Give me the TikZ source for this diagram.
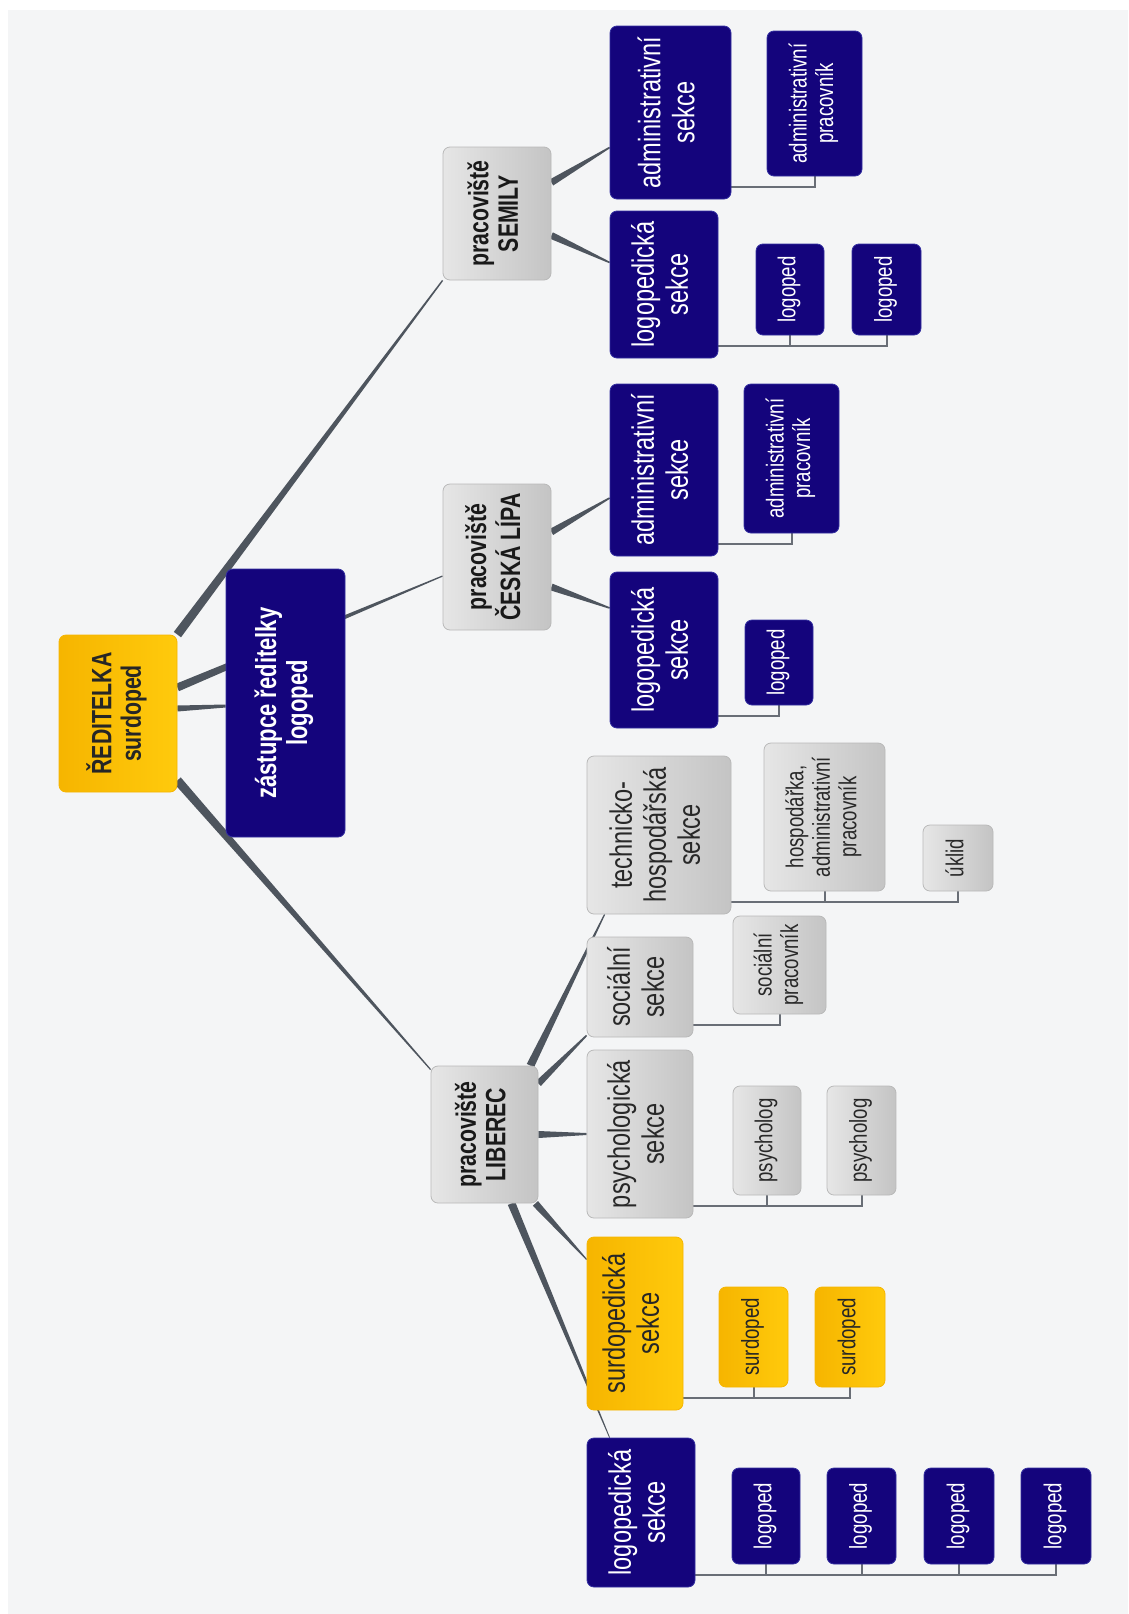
\documentclass[tikz,border=0pt]{standalone}
\usepackage{fontspec}
\setmainfont{Liberation Sans}[FakeStretch=0.76]
\usepackage{graphicx}
\usetikzlibrary{calc}

\definecolor{navy}{RGB}{20,4,124}
\definecolor{navyedge}{RGB}{52,48,160}
\definecolor{goldL}{RGB}{246,181,0}
\definecolor{goldR}{RGB}{255,202,12}
\definecolor{greyL}{RGB}{230,230,230}
\definecolor{greyR}{RGB}{196,196,196}
\definecolor{greyedge}{RGB}{185,185,185}
\definecolor{paper}{RGB}{244,245,246}
\definecolor{wirecol}{RGB}{78,85,94}
\definecolor{inkgrey}{RGB}{40,40,40}

\pgfdeclarelayer{bg}
\pgfsetlayers{bg,main}

\newcommand\vt[1]{\rotatebox{90}{\begin{tabular}{@{}c@{}}#1\end{tabular}}}
\newcommand\taper[4]{%
  \fill[wire] let \p1=(#1), \p2=(#2), \n1={atan2(\y2-\y1,\x2-\x1)+90} in
    ($(\p1)+(\n1:#3pt)$) -- ($(\p2)+(\n1:#4pt)$) -- ($(\p2)+(\n1+180:#4pt)$) -- ($(\p1)+(\n1+180:#3pt)$) -- cycle;}
\newcommand\kids[2]{\foreach \c in {#2} \draw[link] ($(#1.south east)+(0,-12)$) -| (\c.south);}

\tikzset{
  orgbox/.style={rounded corners=7pt, inner sep=0pt, line width=0.8pt},
  navybox/.style={orgbox, fill=navy, draw=navyedge, text=white},
  greybox/.style={orgbox, left color=greyL, right color=greyR, draw=greyedge, text=inkgrey},
  goldbox/.style={orgbox, left color=goldL, right color=goldR, draw=goldL, text=black!85},
  head/.style={font=\fontsize{28}{29.5}\selectfont\bfseries},
  sect/.style={font=\fontsize{31}{34}\selectfont},
  leaf/.style={font=\fontsize{24.5}{26.5}\selectfont},
  sz/.style 2 args={minimum width=#1pt, minimum height=#2pt},
  wire/.style={fill=wirecol},
  link/.style={draw=wirecol!85, line width=2pt}
}

\begin{document}
\begin{tikzpicture}[x=1pt, y=-1pt]
\useasboundingbox (0,0) rectangle (1128,1614);

\node[goldbox, head, sz={118}{157}] (red) at (118,713.5) {\vt{ŘEDITELKA\\surdoped}};
\node[navybox, head, font=\fontsize{29}{31}\selectfont\bfseries, sz={119}{268}] (zast) at (285.5,703) {\vt{zástupce ředitelky\\logoped}};
\node[greybox, head, text=black!90, sz={108}{133}] (semily) at (497,213.5) {\vt{pracoviště\\SEMILY}};
\node[greybox, head, text=black!90, sz={108}{146}] (lipa) at (497,557) {\vt{pracoviště\\ČESKÁ LÍPA}};
\node[greybox, head, text=black!90, sz={107}{137}] (liberec) at (484.5,1134.5) {\vt{pracoviště\\LIBEREC}};

\node[navybox, sect, sz={121}{173}] (sAdm) at (670.5,112.5) {\vt{administrativní\\sekce}};
\node[navybox, leaf, sz={95}{145}] (sAdmP) at (814.5,103.5) {\vt{administrativní\\pracovník}};
\node[navybox, sect, sz={108}{147}] (sLog) at (664,284.5) {\vt{logopedická\\sekce}};
\node[navybox, leaf, sz={68}{91}] (sLog1) at (790,289.5) {\vt{logoped}};
\node[navybox, leaf, sz={69}{91}] (sLog2) at (886.5,289.5) {\vt{logoped}};

\node[navybox, sect, sz={108}{172}] (lAdm) at (664,470) {\vt{administrativní\\sekce}};
\node[navybox, leaf, sz={95}{149}] (lAdmP) at (791.5,458.5) {\vt{administrativní\\pracovník}};
\node[navybox, sect, sz={108}{156}] (lLog) at (664,650) {\vt{logopedická\\sekce}};
\node[navybox, leaf, sz={68}{85}] (lLog1) at (779,662.5) {\vt{logoped}};

\node[greybox, sect, sz={144}{158}] (tech) at (659,835) {\vt{technicko-\\hospodářská\\sekce}};
\node[greybox, leaf, sz={121}{148}] (hosp) at (824.5,817) {\vt{hospodářka,\\administrativní\\pracovník}};
\node[greybox, leaf, sz={70}{66}] (uklid) at (958,858) {\vt{úklid}};
\node[greybox, sect, sz={106}{100}] (soc) at (640,987) {\vt{sociální\\sekce}};
\node[greybox, leaf, sz={93}{98}] (socP) at (779.5,965) {\vt{sociální\\pracovník}};
\node[greybox, sect, sz={106}{168}] (psy) at (640,1134) {\vt{psychologická\\sekce}};
\node[greybox, leaf, sz={68}{109}] (psy1) at (767,1140.5) {\vt{psycholog}};
\node[greybox, leaf, sz={69}{109}] (psy2) at (861.5,1140.5) {\vt{psycholog}};
\node[goldbox, sect, sz={96}{173}] (surdo) at (635,1323.5) {\vt{surdopedická\\sekce}};
\node[goldbox, leaf, sz={69}{100}] (sur1) at (753.5,1337) {\vt{surdoped}};
\node[goldbox, leaf, sz={70}{100}] (sur2) at (850,1337) {\vt{surdoped}};
\node[navybox, sect, sz={108}{149}] (llog) at (641,1512.5) {\vt{logopedická\\sekce}};
\node[navybox, leaf, sz={68}{96}] (ll1) at (766,1516) {\vt{logoped}};
\node[navybox, leaf, sz={69}{96}] (ll2) at (861.5,1516) {\vt{logoped}};
\node[navybox, leaf, sz={70}{96}] (ll3) at (959,1516) {\vt{logoped}};
\node[navybox, leaf, sz={70}{96}] (ll4) at (1056,1516) {\vt{logoped}};

\begin{pgfonlayer}{bg}
\fill[white] (0,0) rectangle (1128,1614);
\fill[paper] (8,10) rectangle (1128,1614);
\taper{red.north east}{semily.south west}{4.5}{0.7}
\taper{$(red.east)+(0,-26)$}{$(lipa.west)+(0,19)$}{4}{0.6}
\taper{$(red.east)+(0,-5)$}{$(zast.west)+(0,3)$}{3}{1.5}
\taper{$(red.south east)+(0,-12)$}{$(liberec.north west)+(0,4)$}{4.5}{0.6}
\taper{$(semily.east)+(0,-31)$}{$(sAdm.west)+(0,35)$}{3.5}{0.8}
\taper{$(semily.east)+(0,22)$}{$(sLog.west)+(0,-22)$}{3.5}{0.8}
\taper{$(lipa.east)+(0,-25)$}{$(lAdm.west)+(0,28)$}{3.5}{0.8}
\taper{$(lipa.east)+(0,30)$}{$(lLog.west)+(0,-42)$}{3.5}{0.8}
\taper{$(liberec.north east)+(-8,0)$}{$(tech.south west)+(18,0)$}{4}{0.6}
\taper{$(liberec.east)+(0,-51)$}{$(soc.south west)+(0,-2)$}{3.5}{0.8}
\taper{liberec.east}{psy.west}{3.5}{1}
\taper{$(liberec.south east)+(-3,0)$}{$(surdo.west)+(0,-64)$}{3.5}{0.6}
\taper{$(liberec.south)+(27,0)$}{$(llog.north west)+(23,0)$}{4}{0.4}
\kids{sAdm}{sAdmP}
\kids{sLog}{sLog1,sLog2}
\kids{lAdm}{lAdmP}
\kids{lLog}{lLog1}
\kids{tech}{hosp,uklid}
\kids{soc}{socP}
\kids{psy}{psy1,psy2}
\kids{surdo}{sur1,sur2}
\kids{llog}{ll1,ll2,ll3,ll4}
\end{pgfonlayer}
\end{tikzpicture}
\end{document}
